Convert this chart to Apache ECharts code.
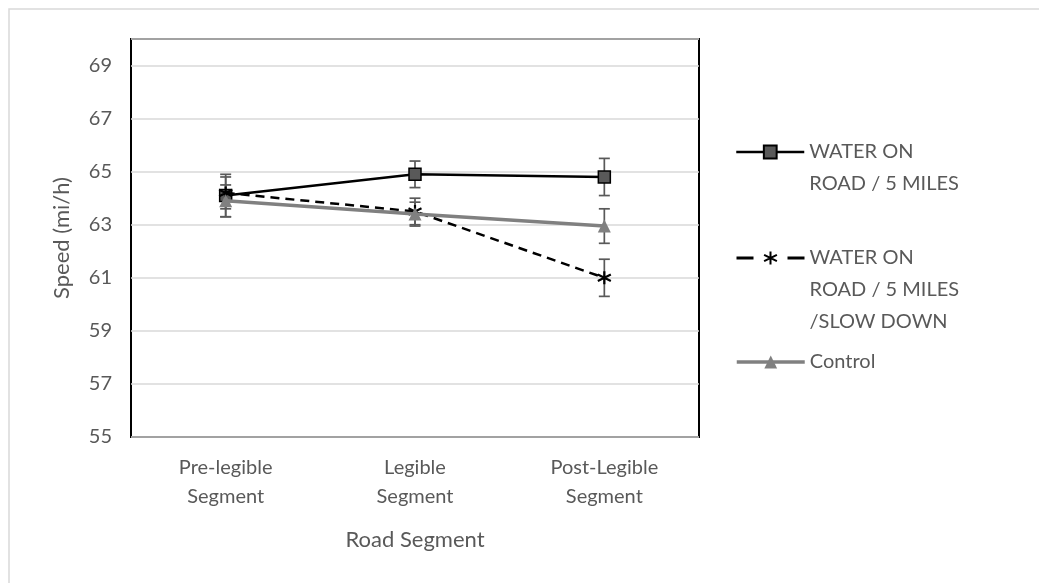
<!DOCTYPE html>
<html>
<head>
<meta charset="utf-8">
<script src="https://cdn.jsdelivr.net/npm/echarts@6/dist/echarts.min.js"></script>
<style>
html,body{margin:0;padding:0;background:#fff;}
#chart{width:1039px;height:583px;}
</style>
</head>
<body>
<div id="chart"></div>
<script>
var categories = ['Pre-legible\nSegment', 'Legible\nSegment', 'Post-Legible\nSegment'];
var seriesNames = ['WATER ON\nROAD / 5 MILES', 'WATER ON\nROAD / 5 MILES\n/SLOW DOWN', 'Control'];
var waterRoad = [64.1, 64.9, 64.8];
var waterRoadErr = [0.8, 0.5, 0.7];
var slowDown = [64.2, 63.5, 61.0];
var slowDownErr = [0.6, 0.5, 0.7];
var control = [63.9, 63.4, 62.95];
var controlErr = [0.6, 0.45, 0.65];
var yTicks = [55, 57, 59, 61, 63, 65, 67, 69];

var FONT = 'Lato';
var TXT = '#595959';
var ERR = '#595959';

function errData(vals, errs) {
  return vals.map(function (v, i) { return [i, v - errs[i], v + errs[i]]; });
}
function errSeries(vals, errs) {
  return {
    type: 'custom',
    z: 1,
    silent: true,
    data: errData(vals, errs),
    renderItem: function (params, api) {
      var x = api.value(0);
      var lo = api.coord([x, api.value(1)]);
      var hi = api.coord([x, api.value(2)]);
      var w = 5.5;
      var st = { stroke: ERR, lineWidth: 1.7 };
      return {
        type: 'group',
        children: [
          { type: 'line', shape: { x1: lo[0], y1: lo[1], x2: hi[0], y2: hi[1] }, style: st },
          { type: 'line', shape: { x1: lo[0] - w, y1: lo[1], x2: lo[0] + w, y2: lo[1] }, style: st },
          { type: 'line', shape: { x1: hi[0] - w, y1: hi[1], x2: hi[0] + w, y2: hi[1] }, style: st }
        ]
      };
    }
  };
}

var asterisk = 'path://M0,-5L0,5M-4.33,-2.5L4.33,2.5M-4.33,2.5L4.33,-2.5';

var chart = echarts.init(document.getElementById('chart'), null, { renderer: 'canvas' });

function legendFor(idx, top, lineStyle) {
  return {
    data: [seriesNames[idx]],
    left: 735,
    top: top,
    orient: 'vertical',
    padding: 0,
    itemWidth: 68,
    itemHeight: 16,
    itemGap: 0,
    lineStyle: lineStyle,
    formatter: function (name) {
      var n = name.split('\n').length;
      var pre = '';
      for (var i = 1; i < n; i++) pre += ' \n';
      return pre + name;
    },
    textStyle: { fontFamily: FONT, fontSize: 20, color: TXT, lineHeight: 32 }
  };
}

chart.setOption({
  animation: false,
  backgroundColor: '#fff',
  graphic: [{
    type: 'rect',
    shape: { x: 9, y: 9, width: 1200, height: 800 },
    style: { fill: 'none', stroke: '#d9d9d9', lineWidth: 1.5 },
    silent: true
  }],
  grid: {
    left: 131, top: 39, right: 340, bottom: 146,
    show: true, borderColor: '#000', borderWidth: 2, backgroundColor: 'transparent'
  },
  legend: [
    legendFor(0, 104, { width: 2.5 }),
    legendFor(1, 178, { width: 3, type: [17, 34] }),
    legendFor(2, 346, { width: 3.5 })
  ],
  xAxis: {
    type: 'category',
    data: categories,
    boundaryGap: true,
    axisLine: { show: false },
    axisTick: { show: false },
    axisLabel: { fontFamily: FONT, fontSize: 20, color: TXT, lineHeight: 29, margin: 16, interval: 0 },
    name: 'Road Segment',
    nameLocation: 'middle',
    nameGap: 92,
    nameTextStyle: { fontFamily: FONT, fontSize: 22, color: TXT }
  },
  yAxis: {
    type: 'value',
    min: yTicks[0],
    max: 70,
    interval: yTicks[1] - yTicks[0],
    axisLine: { show: false },
    axisTick: { show: false },
    axisLabel: { fontFamily: FONT, fontSize: 20, color: TXT, margin: 19, showMaxLabel: false },
    splitLine: { lineStyle: { color: '#d9d9d9', width: 1.5 } },
    name: 'Speed (mi/h)',
    nameLocation: 'middle',
    nameGap: 58,
    nameTextStyle: { fontFamily: FONT, fontSize: 22, color: TXT }
  },
  series: [
    errSeries(waterRoad, waterRoadErr),
    errSeries(slowDown, slowDownErr),
    errSeries(control, controlErr),
    {
      name: seriesNames[0],
      type: 'line',
      z: 3,
      data: waterRoad,
      symbol: 'rect',
      symbolSize: 12,
      lineStyle: { color: '#000', width: 2.5 },
      itemStyle: { color: '#595959', borderColor: '#000', borderWidth: 1.5 }
    },
    {
      name: seriesNames[1],
      type: 'line',
      z: 4,
      data: slowDown,
      symbol: asterisk,
      symbolSize: 13,
      lineStyle: { color: '#000', width: 2.5, type: [9, 6] },
      itemStyle: { color: '#000', borderColor: '#000', borderWidth: 2.2 }
    },
    {
      name: seriesNames[2],
      type: 'line',
      z: 5,
      data: control,
      symbol: 'triangle',
      symbolSize: 13,
      lineStyle: { color: '#808080', width: 3.5 },
      itemStyle: { color: '#808080', borderColor: '#808080', borderWidth: 0 }
    }
  ]
});
</script>
</body>
</html>
